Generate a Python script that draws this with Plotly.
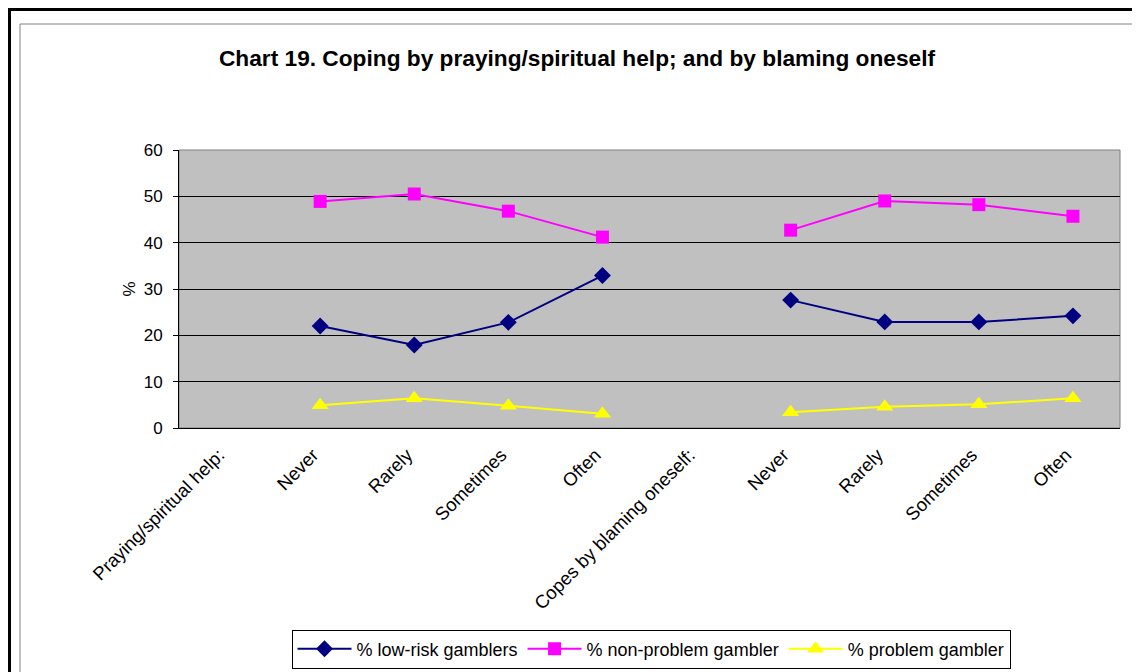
"""Chart 19 - coping by praying/spiritual help and by blaming oneself."""

import plotly.graph_objects as go

# ---- data --------------------------------------------------------------

CATEGORIES = [
    "Praying/spiritual help:", "Never", "Rarely", "Sometimes", "Often",
    "Copes by blaming oneself:", "Never", "Rarely", "Sometimes", "Often",
]
LOW_RISK = [None, 22.0, 17.9, 22.8, 32.9, None, 27.6, 22.9, 22.9, 24.2]
NON_PROBLEM = [None, 48.9, 50.5, 46.8, 41.2, None, 42.7, 49.0, 48.2, 45.7]
PROBLEM = [None, 4.9, 6.4, 4.8, 3.1, None, 3.4, 4.6, 5.1, 6.4]

SERIES = [
    ("% low-risk gamblers", LOW_RISK, "#000080", "diamond", 13),
    ("% non-problem gambler", NON_PROBLEM, "#FF00FF", "square", 13),
    ("% problem gambler", PROBLEM, "#FFFF00", "triangle-up", 15),
]

FONT = "Arial, Liberation Sans, sans-serif"

# ---- geometry (page pixels) ---------------------------------------------

W, H = 1140, 672
OFF = 8                                 # default body margin of the page
PL, PR, PT, PB = 179, 1120, 150, 428    # plot area edges on the page


def px(x):
    return (x - PL) / (PR - PL)


def py(y):
    return (PB - y) / (PB - PT)


xs = list(range(len(CATEGORIES)))

fig = go.Figure()
for name, vals, color, symbol, size in SERIES:
    fig.add_trace(go.Scatter(
        x=xs, y=vals, name=name, mode="lines+markers",
        line=dict(color=color, width=2),
        marker=dict(symbol=symbol, size=size, color=color),
        connectgaps=False,
    ))

fig.update_layout(
    width=W - OFF, height=H - OFF,
    margin=dict(l=PL - OFF, r=W - PR, t=PT - OFF, b=H - PB, autoexpand=False),
    paper_bgcolor="white", plot_bgcolor="#C0C0C0",
    font=dict(family=FONT, size=17, color="black"),
    title=dict(
        text="<b>Chart 19. Coping by praying/spiritual help; and by blaming oneself</b>",
        x=(577 - OFF) / (W - OFF), xref="container", xanchor="center",
        y=1 - (58 - OFF) / (H - OFF), yref="container", yanchor="middle",
        font=dict(size=22.7),
    ),
    showlegend=True,
    legend=dict(
        orientation="h", x=px(651), xanchor="center", y=py(649), yanchor="middle",
        bordercolor="black", borderwidth=1, bgcolor="white",
        font=dict(size=18), itemwidth=54,
    ),
    xaxis=dict(
        range=[-0.5, len(CATEGORIES) - 0.5], tickmode="array",
        tickvals=xs, ticktext=CATEGORIES, tickangle=-45, ticks="",
        showgrid=False, zeroline=False, showline=True, linecolor="black",
        linewidth=1, tickfont=dict(size=18.5), automargin=False,
        ticklabelstandoff=8, ticklabelshift=-7,
    ),
    xaxis2=dict(
        overlaying="x", anchor="y", side="bottom",
        range=[-0.5, len(CATEGORIES) - 0.5], tickmode="array",
        tickvals=[i - 0.5 for i in range(len(CATEGORIES) + 1)],
        ticks="outside", ticklen=6, tickcolor="black", showticklabels=False,
        showgrid=False, zeroline=False, automargin=False,
    ),
    yaxis=dict(
        range=[0, 60], dtick=10, ticks="outside", ticklen=5, tickcolor="black",
        showgrid=True, gridcolor="black", gridwidth=1, zeroline=False,
        showline=True, linecolor="black", linewidth=1, automargin=False,
        title=dict(text="%", font=dict(size=17), standoff=3),
        tickfont=dict(size=17), ticklabelstandoff=7,
    ),
)

# plot area border (gray) plus outer chart frames
fig.add_shape(type="rect", xref="paper", yref="paper", x0=0, x1=1, y0=0, y1=1,
              line=dict(color="#808080", width=1), layer="below")
fig.add_shape(type="line", xref="paper", yref="paper",
              x0=px(20), x1=px(20), y0=py(24), y1=py(700),
              line=dict(color="#808080", width=1))
fig.add_shape(type="line", xref="paper", yref="paper",
              x0=px(20), x1=px(1136), y0=py(24), y1=py(24),
              line=dict(color="#808080", width=1))
fig.add_shape(type="line", xref="paper", yref="paper",
              x0=px(1136), x1=px(1136), y0=py(24), y1=py(700),
              line=dict(color="black", width=2))
fig.add_shape(type="line", xref="paper", yref="paper",
              x0=px(OFF + 1.5), x1=px(OFF + 1.5), y0=py(OFF + 1.5), y1=py(700),
              line=dict(color="black", width=3))
fig.add_shape(type="line", xref="paper", yref="paper",
              x0=px(OFF), x1=px(1145), y0=py(OFF + 1.5), y1=py(OFF + 1.5),
              line=dict(color="black", width=3))

fig.write_html("out.html")
